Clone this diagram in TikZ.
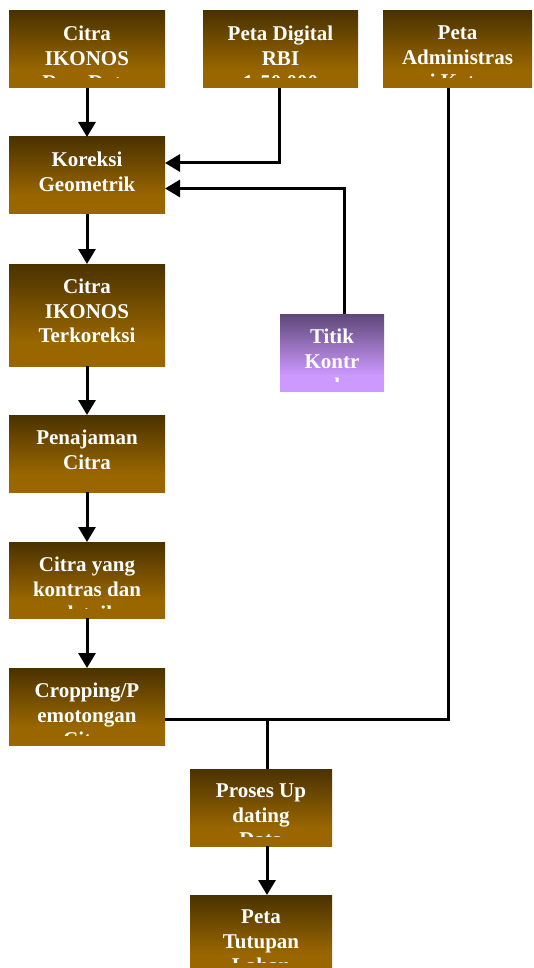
\documentclass[tikz,border=0pt]{standalone}
\usepackage{fontspec}
\setmainfont{Liberation Serif}
\usetikzlibrary{arrows.meta}
\definecolor{brT}{HTML}{4A3200}
\definecolor{brB}{HTML}{996600}
\definecolor{puT}{HTML}{5E4778}
\definecolor{puB}{HTML}{CC99FF}
\pgfdeclareverticalshading{brownsh}{100bp}{color(0bp)=(brB); color(25bp)=(brB); color(37bp)=(brB); color(75bp)=(brT); color(100bp)=(brT)}
\pgfdeclareverticalshading{purplesh}{100bp}{color(0bp)=(puB); color(25bp)=(puB); color(35bp)=(puB); color(75bp)=(puT); color(100bp)=(puT)}
\tikzset{
  boxnode/.style={draw=none, inner sep=0pt, outer sep=0pt, shade},
  txt/.style={text=white, font=\fontsize{21}{24.5}\selectfont\bfseries, align=center, inner sep=0pt, anchor=north, execute at begin node=\strut},
  ln/.style={line width=3pt},
  arr/.style={ln, -{Triangle[length=15pt,width=17pt]}}
}
\newcommand\mkbox[7]{%
  \node[boxnode, shading=#6, minimum width={(#4-#2)*1pt}, minimum height={(#5-#3)*1pt}] (#1) at ({(#2+#4)/2},{-(#3+#5)/2}) {};
  \begin{scope}
    \clip (#1.north west) rectangle ([yshift=10pt]#1.south east);
    \node[txt] (#1-t) at ([yshift=-15pt]#1.north) {#7};
  \end{scope}}
\begin{document}
\begin{tikzpicture}[x=1pt,y=1pt]
\useasboundingbox (0,0) rectangle (534,-968);
\mkbox{b1}{9}{11}{165}{88}{brownsh}{Citra\\IKONOS\\Raw Data}
\mkbox{b2}{203}{11}{358}{88}{brownsh}{Peta Digital\\RBI\\1:50.000}
\mkbox{b3}{383}{11}{532}{88}{brownsh}{Peta\\Administras\\i Kota}
\mkbox{kor}{9}{137}{165}{214}{brownsh}{Koreksi\\Geometrik}
\mkbox{ter}{9}{264}{165}{366}{brownsh}{Citra\\IKONOS\\Terkoreksi}
\mkbox{tit}{280}{314}{384}{391}{purplesh}{Titik\\Kontr\\ol}
\mkbox{pen}{9}{415}{165}{492}{brownsh}{Penajaman\\Citra}
\mkbox{kon}{9}{542}{165}{618}{brownsh}{Citra yang\\kontras dan\\detail}
\mkbox{crp}{9}{668}{165}{745}{brownsh}{Cropping/P\\emotongan\\Citra}
\mkbox{pro}{190}{769}{332}{846}{brownsh}{Proses Up\\dating\\Data}
\mkbox{tut}{190}{895}{332}{972}{brownsh}{Peta\\Tutupan\\Lahan}
% connectors
\draw[arr] (b1.south) -- (kor.north);
\draw[arr] ([xshift=-1.5pt]b2.south) |- ([yshift=12.5pt]kor.east);
\draw[arr] ([xshift=12pt]tit.north) |- ([yshift=-13pt]kor.east);
\draw[arr] (kor.south) -- (ter.north);
\draw[arr] (ter.south) -- (pen.north);
\draw[arr] (pen.south) -- (kon.north);
\draw[arr] (kon.south) -- (crp.north);
\draw[ln] ([xshift=-9.5pt]b3.south) |- ([yshift=-12.5pt]crp.east);
\coordinate (j) at (267,-719);
\draw[ln] (j) -- (j |- pro.north);
\draw[arr] ([xshift=6pt]pro.south) -- ([xshift=6pt]tut.north);
\end{tikzpicture}
\end{document}
